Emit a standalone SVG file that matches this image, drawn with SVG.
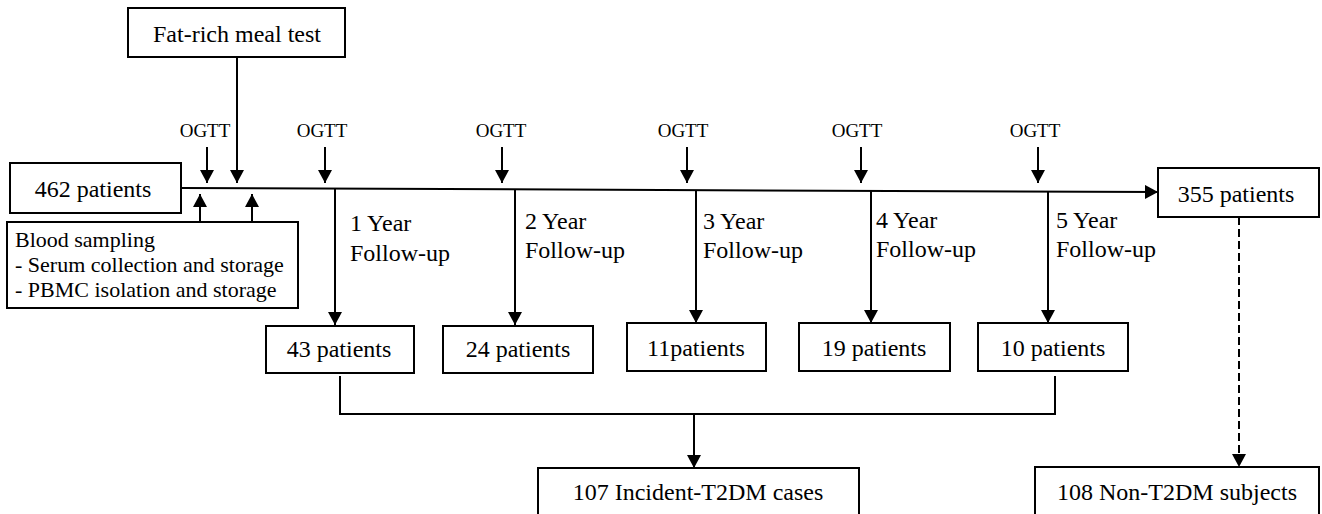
<svg xmlns="http://www.w3.org/2000/svg" width="1322" height="514" viewBox="0 0 1322 514">
<style>
  text { font-family: "Liberation Serif", "Times New Roman", serif; fill: #000; }
  .t24 { font-size: 24px; }
  .t22 { font-size: 22px; }
  .t19 { font-size: 19px; }
  .mid { text-anchor: middle; }
  rect.box { fill: #fff; stroke: #000; stroke-width: 2; }
  .ln { fill: none; stroke: #000; stroke-width: 2; }
  .arr { marker-end: url(#ah); }
  .dash { stroke-dasharray: 8 4; }
</style>
<defs>
  <marker id="ah" markerUnits="userSpaceOnUse" markerWidth="14" markerHeight="14" refX="13" refY="7" orient="auto">
    <path d="M0,0 L13,7 L0,14 Z" fill="#000"/>
  </marker>
</defs>
<rect x="0" y="0" width="1322" height="514" fill="#fff"/>

<g id="connectors">
  <!-- timeline -->
  <line class="ln arr" x1="181" y1="188" x2="1158" y2="192"/>
  <!-- fat-rich meal -->
  <line class="ln arr" x1="237" y1="57" x2="237" y2="183"/>
  <!-- OGTT arrows -->
  <line class="ln arr" x1="207" y1="147" x2="207" y2="183"/>
  <line class="ln arr" x1="325" y1="147" x2="325" y2="183"/>
  <line class="ln arr" x1="502" y1="147" x2="502" y2="183"/>
  <line class="ln arr" x1="687" y1="147" x2="687" y2="183"/>
  <line class="ln arr" x1="861" y1="147" x2="861" y2="183"/>
  <line class="ln arr" x1="1038" y1="147" x2="1038" y2="183"/>
  <!-- blood sampling up arrows -->
  <line class="ln arr" x1="200" y1="222" x2="200" y2="194"/>
  <line class="ln arr" x1="252" y1="222" x2="252" y2="194"/>
  <!-- yearly drops -->
  <line class="ln arr" x1="335" y1="189" x2="335" y2="325"/>
  <line class="ln arr" x1="515" y1="190" x2="515" y2="325"/>
  <line class="ln arr" x1="696" y1="190" x2="696" y2="323"/>
  <line class="ln arr" x1="871" y1="191" x2="871" y2="323"/>
  <line class="ln arr" x1="1048" y1="192" x2="1048" y2="323"/>
  <!-- merge -->
  <polyline class="ln" points="340,376 340,414 1055,414 1055,376"/>
  <line class="ln arr" x1="694" y1="414" x2="694" y2="468"/>
  <!-- dashed -->
  <line class="ln arr dash" x1="1239" y1="217" x2="1239" y2="467"/>
</g>

<g id="labels">
  <text class="t19 mid" x="205" y="137">OGTT</text>
  <text class="t19 mid" x="322" y="137">OGTT</text>
  <text class="t19 mid" x="501" y="137">OGTT</text>
  <text class="t19 mid" x="683" y="137">OGTT</text>
  <text class="t19 mid" x="857" y="137">OGTT</text>
  <text class="t19 mid" x="1035" y="137">OGTT</text>
  <text class="t24" x="350" y="231">1 Year</text>
  <text class="t24" x="350" y="261">Follow-up</text>
  <text class="t24" x="525" y="229">2 Year</text>
  <text class="t24" x="525" y="258">Follow-up</text>
  <text class="t24" x="703" y="229">3 Year</text>
  <text class="t24" x="703" y="258">Follow-up</text>
  <text class="t24" x="876" y="228">4 Year</text>
  <text class="t24" x="876" y="257">Follow-up</text>
  <text class="t24" x="1056" y="228">5 Year</text>
  <text class="t24" x="1056" y="257">Follow-up</text>
</g>

<g id="fat-rich">
  <rect class="box" x="128" y="8" width="217" height="49"/>
  <text class="t24 mid" x="237" y="42">Fat-rich meal test</text>
</g>
<g id="n462">
  <rect class="box" x="10" y="163" width="171" height="50"/>
  <text class="t24 mid" x="93" y="197">462 patients</text>
</g>
<g id="blood">
  <rect class="box" x="7" y="222" width="291" height="86"/>
  <text class="t22" x="15" y="247">Blood sampling</text>
  <text class="t22" x="15" y="272">- Serum collection and storage</text>
  <text class="t22" x="15" y="297">- PBMC isolation and storage</text>
</g>
<g id="n43">
  <rect class="box" x="266" y="326" width="148" height="47"/>
  <text class="t24 mid" x="339" y="357">43 patients</text>
</g>
<g id="n24">
  <rect class="box" x="443" y="326" width="150" height="47"/>
  <text class="t24 mid" x="518" y="357">24 patients</text>
</g>
<g id="n11">
  <rect class="box" x="627" y="323" width="139" height="48"/>
  <text class="t24 mid" x="696" y="356">11patients</text>
</g>
<g id="n19">
  <rect class="box" x="799" y="323" width="151" height="48"/>
  <text class="t24 mid" x="874" y="356">19 patients</text>
</g>
<g id="n10">
  <rect class="box" x="978" y="323" width="150" height="48"/>
  <text class="t24 mid" x="1053" y="356">10 patients</text>
</g>
<g id="n355">
  <rect class="box" x="1158" y="168" width="161" height="49"/>
  <text class="t24 mid" x="1236" y="202">355 patients</text>
</g>
<g id="n107">
  <rect class="box" x="538" y="468" width="321" height="56"/>
  <text class="t24 mid" x="698" y="500">107 Incident-T2DM cases</text>
</g>
<g id="n108">
  <rect class="box" x="1035" y="467" width="284" height="57"/>
  <text class="t24 mid" x="1177" y="500">108 Non-T2DM subjects</text>
</g>
</svg>
